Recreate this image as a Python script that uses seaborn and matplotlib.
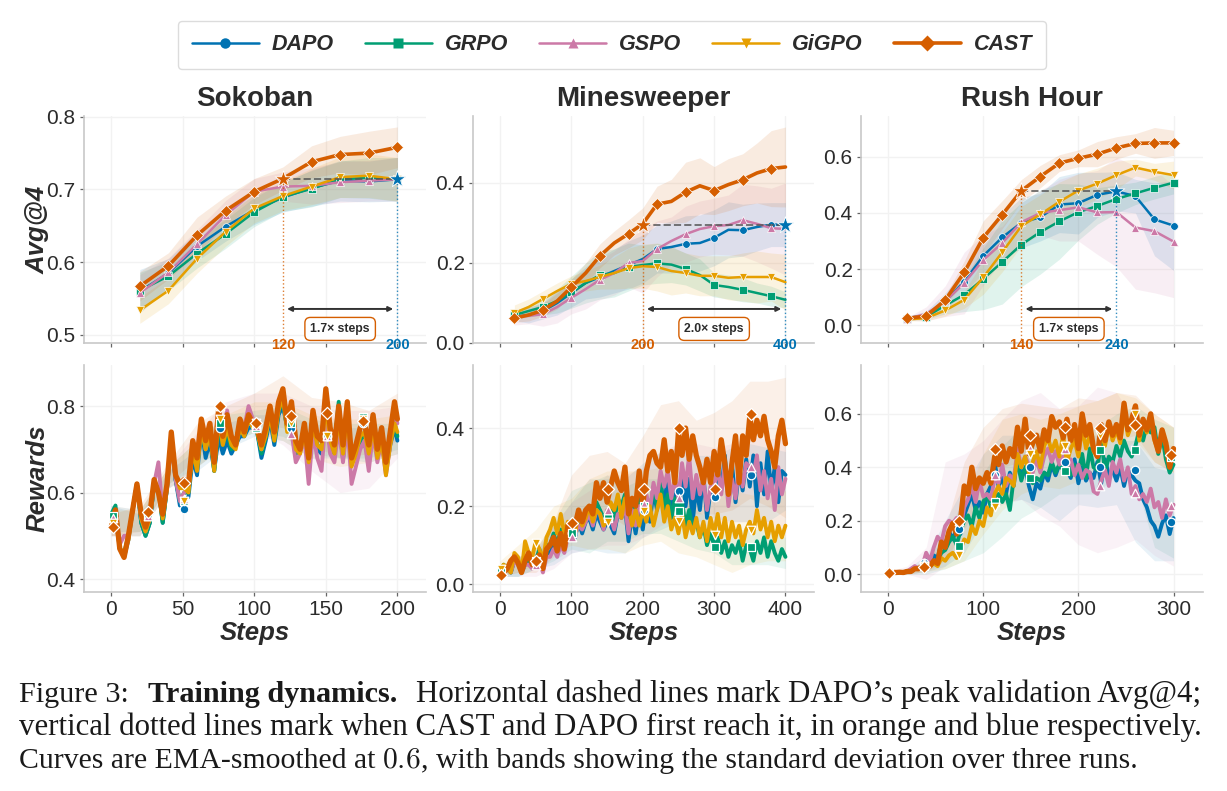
import matplotlib
matplotlib.use('Agg')
import numpy as np
import seaborn as sns
import matplotlib.pyplot as plt
from matplotlib.lines import Line2D
from matplotlib.transforms import blended_transform_factory as blend

methods = ['DAPO', 'GRPO', 'GSPO', 'GiGPO', 'CAST']
colors = ['#0072B2', '#009E73', '#CC79A7', '#E69F00', '#D55E00']
marks = ['o', 's', '^', 'v', 'D']
games = ['Sokoban', 'Minesweeper', 'Rush Hour']

# ---- Avg@4 (validation) ----
avg_steps_sok = [20, 40, 60, 80, 100, 120, 140, 160, 180, 200]
avg_sok_dapo = [.560, .585, .622, .649, .672, .689, .702, .712, .711, .714]
avg_sok_grpo = [.561, .581, .612, .639, .669, .690, .701, .714, .716, .714]
avg_sok_gspo = [.558, .586, .625, .665, .697, .704, .705, .710, .712, .714]
avg_sok_gigpo = [.534, .561, .605, .642, .674, .691, .704, .717, .719, .714]
avg_sok_cast = [.567, .595, .637, .671, .697, .715, .738, .748, .750, .758]
std_sok_dapo = [.03, .02, .02, .02, .02, .02, .025, .028, .028, .03]
std_sok_grpo = [.025, .02, .02, .02, .02, .02, .025, .025, .028, .03]
std_sok_gspo = [.025, .02, .02, .02, .018, .02, .025, .028, .028, .03]
std_sok_gigpo = [.018, .018, .02, .02, .02, .02, .025, .028, .03, .03]
std_sok_cast = [.02, .018, .025, .02, .018, .016, .022, .025, .03, .028]

avg_steps_min = list(range(20, 401, 20))
avg_min_dapo = [.065, .07, .08, .10, .125, .15, .165, .18, .195, .21, .235, .24, .248, .25, .263, .283, .282, .29, .296, .296]
avg_min_grpo = [.07, .08, .09, .105, .127, .15, .17, .175, .19, .195, .199, .196, .185, .17, .145, .14, .133, .125, .117, .108]
avg_min_gspo = [.065, .068, .072, .09, .113, .135, .158, .175, .20, .205, .235, .255, .272, .285, .292, .295, .307, .298, .287, .285]
avg_min_gigpo = [.075, .09, .11, .13, .148, .155, .165, .175, .187, .192, .19, .18, .175, .168, .168, .163, .165, .165, .165, .152]
avg_min_cast = [.062, .07, .082, .105, .14, .175, .218, .25, .273, .298, .347, .354, .377, .393, .381, .396, .408, .425, .436, .44]
std_min_dapo = [.01, .02, .02, .03, .035, .04, .05, .055, .06, .06, .06, .065, .07, .07, .07, .07, .065, .06, .055, .055]
std_min_grpo = [.01, .015, .02, .03, .04, .05, .06, .06, .06, .05, .05, .045, .04, .04, .03, .03, .03, .025, .025, .02]
std_min_gspo = [.02, .02, .03, .04, .04, .05, .05, .055, .06, .08, .07, .06, .07, .07, .07, .075, .09, .095, .10, .115]
std_min_gigpo = [.02, .02, .02, .02, .02, .025, .03, .04, .05, .055, .06, .06, .05, .05, .05, .055, .06, .065, .06, .07]
std_min_cast = [.01, .015, .015, .02, .02, .025, .03, .03, .035, .04, .045, .055, .075, .07, .06, .065, .065, .075, .095, .10]

avg_steps_rus = list(range(20, 301, 20))
avg_rus_dapo = [.025, .035, .085, .155, .247, .313, .365, .385, .43, .435, .465, .477, .46, .377, .355]
avg_rus_grpo = [.022, .03, .07, .108, .165, .225, .287, .332, .37, .403, .425, .45, .47, .49, .508]
avg_rus_gspo = [.022, .04, .085, .15, .232, .293, .367, .40, .41, .42, .402, .403, .348, .335, .298]
avg_rus_gigpo = [.02, .025, .052, .09, .17, .26, .353, .395, .44, .48, .505, .535, .562, .547, .535]
avg_rus_cast = [.024, .032, .089, .188, .312, .394, .479, .53, .578, .595, .61, .632, .648, .65, .65]
std_rus_dapo = [.005, .015, .03, .04, .06, .08, .09, .085, .10, .11, .08, .07, .06, .13, .16]
std_rus_grpo = [.005, .01, .03, .06, .11, .15, .15, .15, .135, .10, .065, .05, .04, .04, .04]
std_rus_gspo = [.005, .025, .055, .11, .09, .06, .07, .08, .11, .12, .15, .195, .22, .22, .20]
std_rus_gigpo = [.005, .01, .02, .03, .06, .07, .07, .07, .07, .06, .055, .05, .03, .03, .05]
std_rus_cast = [.005, .01, .015, .04, .06, .05, .04, .04, .03, .03, .045, .04, .035, .055, .045]

# ---- Rewards ----
rew_steps_sok = list(range(0, 199, 3)) + [200]
rew_sok_dapo = [.54, .55, .47, .45, .49, .56, .62, .53, .50, .53,
                .62, .61, .53, .61, .72, .63, .57, .58, .59, .68,
                .64, .75, .68, .72, .65, .73, .69, .72, .69, .71,
                .73, .73, .75, .75, .74, .68, .72, .77, .71, .78,
                .80, .75, .76, .69, .70, .74, .68, .75, .70, .69,
                .78, .72, .69, .76, .68, .77, .68, .70, .72, .71,
                .69, .74, .69, .72, .65, .71, .75, .72]
rew_sok_grpo = [.55, .57, .47, .46, .50, .56, .62, .53, .50, .53,
                .62, .61, .53, .61, .73, .63, .58, .60, .60, .70,
                .66, .74, .70, .73, .65, .75, .71, .74, .70, .71,
                .75, .74, .77, .75, .74, .69, .73, .78, .72, .79,
                .81, .75, .77, .69, .70, .75, .69, .76, .71, .70,
                .79, .73, .71, .81, .70, .78, .67, .70, .72, .73,
                .70, .75, .69, .73, .65, .72, .76, .73]
rew_sok_gspo = [.54, .55, .48, .50, .50, .56, .62, .54, .51, .54,
                .62, .67, .55, .61, .72, .63, .58, .60, .61, .70,
                .66, .76, .70, .74, .66, .80, .74, .79, .73, .71,
                .76, .75, .80, .77, .75, .70, .74, .79, .73, .80,
                .83, .75, .74, .67, .69, .73, .62, .74, .68, .65,
                .78, .69, .67, .75, .67, .76, .62, .66, .70, .72,
                .65, .74, .67, .72, .64, .71, .79, .76]
rew_sok_gigpo = [.53, .55, .47, .46, .49, .56, .62, .54, .51, .54,
                 .62, .60, .54, .61, .73, .64, .61, .61, .60, .70,
                 .65, .75, .70, .74, .65, .77, .71, .75, .71, .70,
                 .75, .73, .77, .75, .74, .70, .73, .78, .72, .79,
                 .82, .74, .78, .70, .69, .74, .67, .76, .71, .70,
                 .80, .72, .69, .77, .69, .78, .66, .69, .73, .74,
                 .69, .75, .68, .72, .64, .71, .76, .74]
rew_sok_cast = [.52, .56, .47, .45, .50, .56, .62, .55, .52, .55,
                .63, .60, .55, .62, .74, .64, .62, .63, .62, .72,
                .68, .77, .72, .76, .67, .79, .73, .78, .73, .71,
                .77, .74, .78, .76, .75, .71, .75, .80, .74, .81,
                .84, .76, .81, .72, .70, .76, .68, .79, .73, .72,
                .84, .75, .71, .80, .71, .81, .68, .71, .75, .76,
                .71, .78, .70, .75, .67, .74, .81, .77]

band_steps_sok = list(range(0, 201, 20))
lo_sok_dapo = [.50, .50, .61, .65, .70, .73, .72, .68, .68, .67, .69]
hi_sok_dapo = [.57, .55, .65, .70, .76, .78, .78, .76, .75, .75, .75]
lo_sok_grpo = [.51, .51, .62, .66, .71, .74, .73, .69, .68, .68, .70]
hi_sok_grpo = [.57, .56, .66, .72, .78, .79, .80, .77, .76, .76, .76]
lo_sok_gspo = [.50, .50, .61, .66, .71, .75, .71, .65, .60, .61, .68]
hi_sok_gspo = [.57, .56, .66, .74, .81, .83, .83, .80, .79, .79, .80]
lo_sok_gigpo = [.50, .50, .61, .66, .71, .74, .72, .68, .66, .67, .69]
hi_sok_gigpo = [.56, .56, .66, .72, .78, .81, .81, .78, .77, .77, .78]
lo_sok_cast = [.50, .51, .62, .68, .73, .76, .75, .71, .68, .69, .72]
hi_sok_cast = [.55, .57, .67, .76, .80, .83, .87, .82, .81, .79, .83]

rew_steps_min = list(range(0, 401, 5))
rew_min_dapo = [.03, .04, .04, .03, .06, .06, .03, .05, .06, .05,
                .05, .07, .04, .08, .08, .10, .08, .12, .09, .13,
                .13, .12, .16, .13, .16, .17, .14, .18, .16, .14,
                .16, .15, .13, .18, .17, .20, .11, .18, .13, .19,
                .14, .21, .16, .24, .19, .26, .20, .28, .17, .25,
                .20, .29, .20, .27, .16, .25, .19, .28, .17, .24,
                .22, .30, .24, .33, .22, .31, .21, .29, .24, .32,
                .25, .33, .20, .31, .23, .34, .24, .30, .21, .29, .28]
rew_min_grpo = [.03, .05, .04, .03, .07, .06, .03, .06, .06, .05,
                .06, .09, .05, .10, .10, .13, .10, .14, .11, .15,
                .14, .13, .18, .16, .19, .20, .17, .21, .19, .17,
                .17, .20, .16, .22, .20, .23, .15, .21, .17, .22,
                .18, .22, .18, .25, .20, .26, .19, .23, .17, .22,
                .19, .21, .15, .19, .14, .16, .12, .15, .10, .13,
                .10, .12, .08, .11, .07, .10, .08, .11, .06, .10,
                .09, .06, .11, .08, .12, .07, .11, .08, .06, .09, .07]
rew_min_gspo = [.03, .04, .04, .03, .06, .05, .03, .05, .05, .04,
                .05, .06, .03, .07, .07, .09, .07, .10, .08, .12,
                .12, .13, .15, .14, .16, .18, .15, .19, .18, .14,
                .19, .17, .14, .18, .17, .20, .13, .19, .15, .20,
                .20, .23, .19, .26, .22, .29, .25, .29, .22, .27,
                .22, .31, .25, .33, .22, .28, .23, .27, .19, .25,
                .25, .30, .23, .31, .20, .27, .22, .30, .25, .31,
                .30, .28, .33, .24, .29, .22, .27, .19, .30, .23, .27]
rew_min_gigpo = [.04, .05, .04, .03, .08, .07, .03, .11, .08, .07,
                 .11, .09, .06, .12, .14, .17, .13, .18, .13, .16,
                 .15, .13, .18, .15, .17, .20, .16, .19, .18, .15,
                 .16, .21, .19, .23, .17, .22, .20, .15, .19, .15,
                 .19, .16, .20, .15, .19, .23, .16, .20, .14, .17,
                 .13, .18, .12, .16, .13, .17, .12, .16, .11, .17,
                 .13, .18, .12, .17, .11, .16, .12, .15, .10, .14,
                 .16, .13, .19, .14, .17, .12, .16, .11, .15, .12, .15]
rew_min_cast = [.025, .03, .04, .06, .07, .055, .03, .06, .08, .05,
                .06, .075, .04, .09, .10, .12, .085, .13, .09, .15,
                .16, .15, .19, .16, .19, .20, .18, .26, .22, .26,
                .21, .25, .29, .26, .24, .30, .18, .22, .20, .29,
                .20, .29, .33, .34, .31, .30, .37, .29, .34, .26,
                .39, .33, .40, .32, .38, .33, .30, .26, .32, .26,
                .34, .28, .37, .31, .23, .31, .38, .26, .38, .33,
                .43, .37, .42, .38, .43, .37, .34, .30, .38, .42, .36]

band_steps_min = list(range(0, 401, 25))
lo_min_dapo = [.02, .02, .04, .05, .08, .09, .08, .08, .12, .14, .16, .16, .17, .16, .16, .16, .19]
hi_min_dapo = [.04, .07, .08, .15, .21, .27, .27, .27, .31, .34, .35, .33, .33, .35, .36, .35, .34]
lo_min_grpo = [.02, .02, .04, .06, .09, .08, .11, .11, .13, .13, .11, .09, .08, .05, .05, .05, .04]
hi_min_grpo = [.04, .07, .09, .16, .24, .26, .28, .25, .27, .27, .24, .19, .16, .14, .14, .14, .12]
lo_min_gspo = [.02, .02, .02, .04, .08, .09, .10, .10, .12, .15, .17, .15, .15, .16, .16, .15, .14]
hi_min_gspo = [.04, .07, .09, .15, .21, .24, .28, .28, .30, .34, .36, .36, .35, .36, .38, .37, .38]
lo_min_gigpo = [.02, .03, .05, .08, .10, .09, .09, .08, .10, .11, .08, .07, .05, .03, .05, .06, .06]
hi_min_gigpo = [.06, .10, .14, .20, .22, .27, .29, .29, .29, .30, .27, .23, .24, .24, .23, .22, .24]
lo_min_cast = [.02, .03, .03, .07, .12, .16, .18, .15, .16, .20, .21, .18, .18, .19, .22, .20, .17]
hi_min_cast = [.04, .07, .09, .16, .28, .33, .34, .31, .38, .46, .47, .42, .44, .47, .52, .52, .53]

rew_steps_rus = list(range(0, 301, 4))
rew_rus_dapo = [.003, .008, .006, .007, .006, .01, .01, .02, .02, .03,
                .06, .04, .07, .06, .12, .11, .16, .13, .17, .15,
                .22, .26, .30, .24, .27, .23, .30, .33, .42, .33,
                .36, .30, .38, .33, .44, .36, .40, .33, .28, .34,
                .32, .38, .35, .41, .37, .41, .40, .39, .36, .43,
                .34, .40, .35, .38, .36, .42, .34, .43, .37, .39,
                .35, .40, .33, .39, .37, .35, .34, .28, .25, .20,
                .18, .14, .19, .22, .15, .21]
rew_rus_grpo = [.003, .008, .006, .007, .006, .01, .01, .02, .02, .02,
                .03, .03, .04, .05, .08, .09, .12, .14, .11, .16,
                .20, .22, .18, .25, .21, .27, .30, .25, .29, .30,
                .27, .30, .24, .36, .42, .35, .40, .37, .34, .36,
                .35, .38, .37, .42, .38, .41, .39, .43, .37, .41,
                .38, .45, .36, .47, .40, .39, .51, .38, .44, .42,
                .48, .44, .50, .46, .44, .48, .54, .50, .56, .53,
                .55, .45, .52, .43, .38, .41]
rew_rus_gspo = [.003, .008, .006, .007, .006, .01, .02, .03, .02, .03,
                .08, .05, .10, .14, .12, .18, .20, .19, .21, .17,
                .25, .28, .33, .27, .35, .29, .30, .28, .36, .34,
                .41, .33, .37, .35, .47, .40, .44, .41, .38, .43,
                .38, .44, .47, .42, .46, .41, .44, .40, .43, .37,
                .41, .36, .39, .38, .31, .30, .35, .39, .33, .42,
                .38, .43, .35, .40, .30, .33, .28, .30, .27, .32,
                .25, .27, .21, .28, .22, .26]
rew_rus_gigpo = [.003, .008, .006, .007, .006, .01, .01, .02, .02, .02,
                 .03, .03, .04, .03, .06, .05, .07, .08, .06, .09,
                 .13, .12, .18, .15, .20, .18, .25, .22, .30, .33,
                 .30, .36, .35, .33, .45, .40, .44, .38, .42, .46,
                 .40, .48, .51, .46, .50, .44, .52, .42, .47, .50,
                 .44, .55, .47, .52, .46, .44, .53, .48, .56, .50,
                 .54, .49, .61, .52, .56, .62, .50, .57, .53, .59,
                 .50, .46, .53, .48, .41, .46]
rew_rus_cast = [.003, .008, .006, .007, .006, .01, .01, .02, .02, .03,
                .04, .03, .05, .04, .12, .10, .16, .19, .15, .20,
                .33, .30, .40, .32, .36, .34, .38, .34, .44, .41,
                .48, .42, .47, .44, .55, .46, .58, .45, .49, .52,
                .46, .54, .50, .59, .55, .57, .51, .58, .50, .56,
                .47, .60, .52, .56, .47, .44, .56, .50, .57, .52,
                .56, .51, .64, .54, .58, .63, .52, .58, .54, .60,
                .51, .46, .54, .49, .40, .47]

band_steps_rus = list(range(0, 301, 20))
lo_rus_dapo = [0, 0, .01, .03, .08, .20, .27, .28, .25, .20, .26, .25, .26, .12, .05, .05]
hi_rus_dapo = [.01, .02, .07, .20, .33, .45, .52, .52, .52, .48, .52, .52, .50, .50, .40, .38]
lo_rus_grpo = [0, 0, 0, .02, .05, .08, .14, .21, .25, .30, .30, .30, .38, .35, .10, .06]
hi_rus_grpo = [.01, .02, .05, .15, .28, .38, .48, .55, .53, .55, .55, .55, .60, .63, .58, .55]
lo_rus_gspo = [0, 0, -.02, .03, .13, .22, .26, .28, .22, .18, .11, .08, .10, .13, .07, .03]
hi_rus_gspo = [.01, .03, .10, .42, .45, .50, .58, .65, .68, .62, .63, .70, .68, .57, .50, .48]
lo_rus_gigpo = [0, 0, .01, .02, .05, .15, .24, .30, .33, .32, .35, .40, .45, .50, .42, .38]
hi_rus_gigpo = [.01, .02, .05, .13, .27, .45, .58, .60, .58, .60, .63, .65, .68, .66, .60, .55]
lo_rus_cast = [0, 0, .01, .05, .17, .28, .40, .42, .45, .44, .44, .50, .50, .52, .42, .38]
hi_rus_cast = [.01, .02, .05, .17, .42, .55, .62, .64, .63, .62, .66, .65, .68, .67, .60, .55]

# markers on the reward curves sit every 25/50/37 steps
pts_sok = [1, 26, 51, 76, 101, 126, 151, 176]
pts_sok_dapo = [.54, .55, .563, .75, .75, .75, .73, .76]
pts_sok_grpo = [.545, .545, .58, .76, .75, .76, .73, .775]
pts_sok_gspo = [.54, .545, .585, .80, .755, .736, .73, .77]
pts_sok_gigpo = [.53, .55, .58, .77, .76, .76, .73, .77]
pts_sok_cast = [.52, .554, .622, .80, .76, .778, .785, .765]

pts_min = [1, 51, 101, 151, 201, 251, 301, 351]
pts_min_dapo = [.025, .055, .13, .17, .19, .24, .224, .28]
pts_min_grpo = [.03, .06, .13, .17, .20, .188, .095, .095]
pts_min_gspo = [.03, .05, .12, .19, .205, .22, .25, .30]
pts_min_gigpo = [.04, .105, .15, .16, .187, .162, .125, .14]
pts_min_cast = [.024, .06, .157, .245, .243, .40, .245, .437]

pts_rus = [1, 38, 75, 112, 149, 186, 223, 260, 297]
pts_rus_dapo = [.003, .04, .17, .37, .40, .42, .40, .39, .195]
pts_rus_grpo = [.003, .03, .105, .27, .36, .385, .465, .465, .44]
pts_rus_gspo = [.003, .04, .20, .37, .47, .47, .33, .305, .255]
pts_rus_gigpo = [.003, .03, .07, .25, .45, .48, .52, .60, .44]
pts_rus_cast = [.003, .027, .20, .47, .52, .552, .547, .558, .445]

reach_cast = [120, 200, 140]
reach_dapo = [200, 400, 240]
peak_dapo = [.714, .296, .478]
ratio_labels = ['1.7× steps', '2.0× steps', '1.7× steps']

avg_steps = [avg_steps_sok, avg_steps_min, avg_steps_rus]
avg_vals = [[avg_sok_dapo, avg_sok_grpo, avg_sok_gspo, avg_sok_gigpo, avg_sok_cast],
            [avg_min_dapo, avg_min_grpo, avg_min_gspo, avg_min_gigpo, avg_min_cast],
            [avg_rus_dapo, avg_rus_grpo, avg_rus_gspo, avg_rus_gigpo, avg_rus_cast]]
avg_stds = [[std_sok_dapo, std_sok_grpo, std_sok_gspo, std_sok_gigpo, std_sok_cast],
            [std_min_dapo, std_min_grpo, std_min_gspo, std_min_gigpo, std_min_cast],
            [std_rus_dapo, std_rus_grpo, std_rus_gspo, std_rus_gigpo, std_rus_cast]]
rew_steps = [rew_steps_sok, rew_steps_min, rew_steps_rus]
rew_vals = [[rew_sok_dapo, rew_sok_grpo, rew_sok_gspo, rew_sok_gigpo, rew_sok_cast],
            [rew_min_dapo, rew_min_grpo, rew_min_gspo, rew_min_gigpo, rew_min_cast],
            [rew_rus_dapo, rew_rus_grpo, rew_rus_gspo, rew_rus_gigpo, rew_rus_cast]]
band_steps = [band_steps_sok, band_steps_min, band_steps_rus]
band_lo = [[lo_sok_dapo, lo_sok_grpo, lo_sok_gspo, lo_sok_gigpo, lo_sok_cast],
           [lo_min_dapo, lo_min_grpo, lo_min_gspo, lo_min_gigpo, lo_min_cast],
           [lo_rus_dapo, lo_rus_grpo, lo_rus_gspo, lo_rus_gigpo, lo_rus_cast]]
band_hi = [[hi_sok_dapo, hi_sok_grpo, hi_sok_gspo, hi_sok_gigpo, hi_sok_cast],
           [hi_min_dapo, hi_min_grpo, hi_min_gspo, hi_min_gigpo, hi_min_cast],
           [hi_rus_dapo, hi_rus_grpo, hi_rus_gspo, hi_rus_gigpo, hi_rus_cast]]
pts_x = [pts_sok, pts_min, pts_rus]
pts_y = [[pts_sok_dapo, pts_sok_grpo, pts_sok_gspo, pts_sok_gigpo, pts_sok_cast],
         [pts_min_dapo, pts_min_grpo, pts_min_gspo, pts_min_gigpo, pts_min_cast],
         [pts_rus_dapo, pts_rus_grpo, pts_rus_gspo, pts_rus_gigpo, pts_rus_cast]]

W, H = 1227, 791
sns.set_theme(style='whitegrid')
plt.rcParams['font.family'] = ['Liberation Sans', 'DejaVu Sans']
plt.rcParams['mathtext.fontset'] = 'cm'
ink = '#2b2b2b'

fig = plt.figure(figsize=(W / 100, H / 100), dpi=100, facecolor='white')

col_px = [(84, 426), (473, 814), (861, 1203)]
row_px = [(116, 343), (365, 592)]
xlims = [(-19, 220), (-38, 440), (-28.5, 331)]
top_ylims = [(.489, .801), (0, .5675), (-.064, .746)]
bot_ylims = [(.37, .895), (-.02, .5615), (-.067, .783)]
xticks = [[0, 50, 100, 150, 200], [0, 100, 200, 300, 400], [0, 100, 200, 300]]
top_yticks = [[.5, .6, .7, .8], [0, .2, .4], [0, .2, .4, .6]]
bot_yticks = [[.4, .6, .8], [0, .2, .4], [0, .2, .4, .6]]
every = [1, 2, 1]


def make_ax(c, r):
    x0, x1 = col_px[c]
    y0, y1 = row_px[r]
    ax = fig.add_axes([x0 / W, 1 - y1 / H, (x1 - x0) / W, (y1 - y0) / H])
    ax.grid(True, color='#f2f2f2', lw=1)
    ax.set_axisbelow(True)
    for s in ['top', 'right']:
        ax.spines[s].set_visible(False)
    for s in ['left', 'bottom']:
        ax.spines[s].set_color('#c8c8c8')
        ax.spines[s].set_linewidth(1.2)
    ax.tick_params(axis='both', length=3, width=.9, color='#666666',
                   labelsize=15, labelcolor=ink, pad=3)
    ax.tick_params(axis='x', bottom=True)
    ax.tick_params(axis='y', left=True)
    ax.set_xlim(xlims[c])
    ax.set_xticks(xticks[c])
    return ax


for c in range(3):
    # top row, validation curves
    ax = make_ax(c, 0)
    x = np.array(avg_steps[c])
    for m in range(5):
        y = np.array(avg_vals[c][m])
        s = np.array(avg_stds[c][m])
        ax.fill_between(x, y - s, y + s, color=colors[m], alpha=.12, lw=0)
    for m in range(5):
        cast = methods[m] == 'CAST'
        sns.lineplot(x=x, y=avg_vals[c][m], ax=ax, color=colors[m], lw=2.6 if cast else 1.8,
                     marker=marks[m], ms=6 if cast else 5.5, mec='white', mew=.5,
                     markevery=every[c], legend=False, errorbar=None)
    ax.set_ylim(top_ylims[c])
    ax.set_yticks(top_yticks[c])
    ax.set_xlabel('')
    ax.set_ylabel('')
    ax.set_xticklabels([])
    ax.set_title(games[c], fontsize=20, fontweight='bold', color=ink, pad=7)
    if c == 0:
        ax.set_ylabel('Avg@4', fontsize=18.5, fontweight='bold', fontstyle='italic', color=ink, labelpad=-2)

    # peak annotation
    tr = blend(ax.transData, ax.transAxes)
    a, b, p = reach_cast[c], reach_dapo[c], peak_dapo[c]
    frac = (p - top_ylims[c][0]) / (top_ylims[c][1] - top_ylims[c][0])
    ax.plot([a, b], [p, p], color='#555555', lw=1.4, ls='--', alpha=.8, zorder=6)
    ax.plot([a, a], [0, frac], transform=tr, color=colors[4], lw=1, ls=':', alpha=.8, zorder=6)
    ax.plot([b, b], [0, frac], transform=tr, color=colors[0], lw=1, ls=':', alpha=.8, zorder=6)
    ax.scatter([a], [p], marker='*', s=160, color=colors[4], edgecolor='white', lw=.6, zorder=8)
    ax.scatter([b], [p], marker='*', s=160, color=colors[0], edgecolor='white', lw=.6, zorder=8)
    ax.annotate('', xy=(b, .15), xytext=(a, .15), xycoords=tr, textcoords=tr,
                arrowprops=dict(arrowstyle='<|-|>', color='#333333', lw=1.4,
                                shrinkA=3, shrinkB=3, mutation_scale=7), zorder=7)
    ax.text((a + b) / 2, .062, ratio_labels[c], transform=tr, ha='center', va='center',
            fontsize=8.8, fontweight='bold', color=ink, zorder=9,
            bbox=dict(boxstyle='round,pad=0.45', fc='white', ec=colors[4], lw=1))
    ax.text(a, -.008, str(a), transform=tr, ha='center', va='center', fontsize=10.5,
            fontweight='bold', color=colors[4], zorder=9, clip_on=False)
    ax.text(b, -.008, str(b), transform=tr, ha='center', va='center', fontsize=10.5,
            fontweight='bold', color=colors[0], zorder=9, clip_on=False)

    # bottom row, noisy rewards
    ax = make_ax(c, 1)
    for m in range(5):
        ax.fill_between(band_steps[c], band_lo[c][m], band_hi[c][m], color=colors[m], alpha=.09, lw=0)
    for m in range(5):
        cast = methods[m] == 'CAST'
        sns.lineplot(x=rew_steps[c], y=rew_vals[c][m], ax=ax, color=colors[m],
                     lw=3.8 if cast else 2.8, legend=False, errorbar=None)
        sns.scatterplot(x=pts_x[c], y=pts_y[c][m], ax=ax, color=colors[m], marker=marks[m],
                        s=38, edgecolor='white', linewidth=.9, legend=False, zorder=5 + m)
    ax.set_ylim(bot_ylims[c])
    ax.set_yticks(bot_yticks[c])
    ax.set_ylabel('')
    ax.set_xlabel('Steps', fontsize=18.5, fontweight='bold', fontstyle='italic', color=ink, labelpad=1)
    if c == 0:
        ax.set_ylabel('Rewards', fontsize=18.5, fontweight='bold', fontstyle='italic', color=ink, labelpad=-2)

handles = [Line2D([], [], color=colors[m], lw=2.6 if m == 4 else 1.8, marker=marks[m],
                  ms=8.5 if m == 4 else 7.5, mec='none') for m in range(5)]
leg = fig.legend(handles, methods, ncol=5, loc='center', bbox_to_anchor=(612 / W, 1 - 45 / H),
                 frameon=True, fancybox=True, edgecolor='#dcdcdc', facecolor='white', framealpha=1,
                 handlelength=3.1, columnspacing=1.45, handletextpad=.6, borderpad=.65,
                 prop=dict(size=15.5, weight='bold', style='italic'))
for t in leg.get_texts():
    t.set_color(ink)

# caption
fig.canvas.draw()
rend = fig.canvas.get_renderer()


def put_runs(runs, x_px, base_px):
    for s, weight, size, gap in runs:
        t = fig.text(x_px / W, 1 - base_px / H, s, family='Liberation Serif', fontsize=size,
                     fontweight=weight, color='#1a1a1a', ha='left', va='baseline')
        x_px += t.get_window_extent(rend).width + gap


put_runs([('Figure 3:', 'normal', 21.8, 19), ('Training dynamics.', 'bold', 21.8, 19),
          ("Horizontal dashed lines mark DAPO’s peak validation Avg@4;", 'normal', 22.34, 0)], 19, 702)
put_runs([('vertical dotted lines mark when CAST and DAPO first reach it, in orange and blue respectively.', 'normal', 22.28, 0)],
         19, 735)
put_runs([('Curves are EMA-smoothed at', 'normal', 21.4, 7), (r'$0.6$', 'normal', 21.4, 0),
          (', with bands showing the standard deviation over three runs.', 'normal', 21.4, 0)], 19, 768)

fig.savefig('out.png', dpi=100)
